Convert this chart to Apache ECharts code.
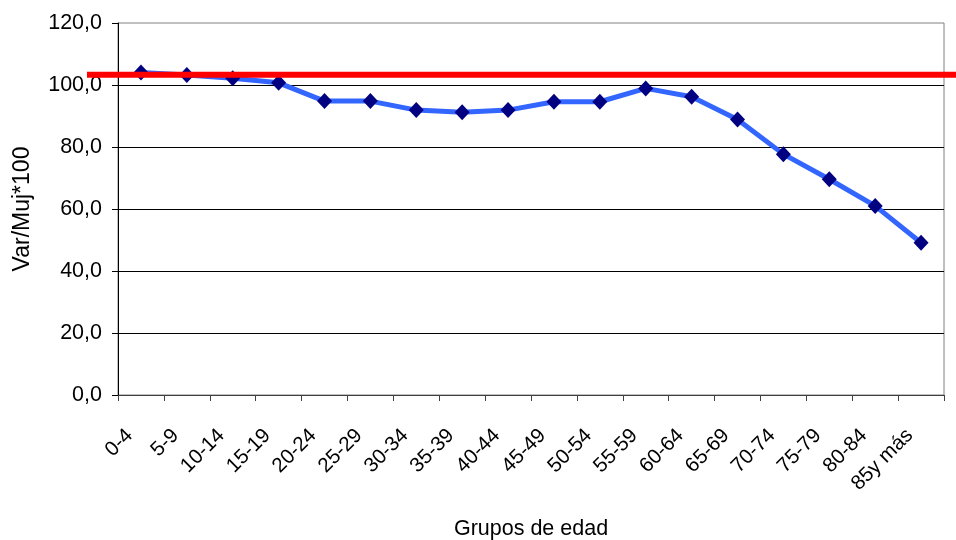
<!DOCTYPE html>
<html>
<head>
<meta charset="utf-8">
<script src="https://cdn.jsdelivr.net/npm/echarts@6/dist/echarts.min.js"></script>
<style>html,body{margin:0;padding:0;background:#fff}#c{width:956px;height:540px}</style>
</head>
<body>
<div id="c"></div>
<script>
const categories = ["0-4","5-9","10-14","15-19","20-24","25-29","30-34","35-39","40-44","45-49","50-54","55-59","60-64","65-69","70-74","75-79","80-84","85y más"];
const ratio = [104.0,103.2,102.2,100.7,94.8,94.8,91.9,91.2,91.9,94.6,94.6,98.9,96.2,88.9,77.7,69.6,61.0,49.1];
const referenceValue = 103.3;
const yTicks = [0,20,40,60,80,100,120];

const chart = echarts.init(document.getElementById('c'));
const font = 'Liberation Sans, Arial, sans-serif';
chart.setOption({
  animation: false,
  backgroundColor: '#fff',
  grid: [
    {left: 118, right: 12, top: 23, bottom: 145, show: true, borderColor: '#808080', borderWidth: 1, outerBoundsMode: 'none', containLabel: false},
    {left: 87, right: 0, top: 23, bottom: 145, show: false, outerBoundsMode: 'none', containLabel: false}
  ],
  xAxis: [
    {
      type: 'category', data: categories, gridIndex: 0, boundaryGap: true,
      name: 'Grupos de edad', nameLocation: 'middle', nameGap: 123,
      nameTextStyle: {fontFamily: font, fontSize: 21.5, color: '#000'},
      axisLine: {lineStyle: {color: '#404040', width: 1}},
      axisTick: {show: true, alignWithLabel: false, inside: false, length: 6, lineStyle: {color: '#404040'}},
      axisLabel: {rotate: 45, margin: 26, padding: [0, 16, 0, 0], fontFamily: font, fontSize: 20.5, color: '#000', interval: 0},
      splitLine: {show: false}
    },
    {type: 'value', gridIndex: 1, min: 0, max: 1, show: false}
  ],
  yAxis: [
    {
      type: 'value', gridIndex: 0, min: yTicks[0], max: yTicks[yTicks.length-1], interval: 20,
      name: 'Var/Muj*100', nameLocation: 'middle', nameGap: 84, nameRotate: 90,
      nameTextStyle: {fontFamily: font, fontSize: 23, color: '#000'},
      axisLine: {show: true, lineStyle: {color: '#000', width: 1}},
      axisTick: {show: true, length: 6, lineStyle: {color: '#000'}},
      axisLabel: {fontFamily: font, fontSize: 21.5, color: '#000', margin: 16,
        formatter: v => v.toFixed(1).replace('.', ',')},
      splitLine: {show: true, showMinLine: false, showMaxLine: false, lineStyle: {color: '#000', width: 1}}
    },
    {type: 'value', gridIndex: 1, min: 0, max: 120, show: false}
  ],
  series: [
    {
      type: 'line', xAxisIndex: 0, yAxisIndex: 0, data: ratio,
      lineStyle: {color: '#3366FF', width: 5},
      symbol: 'diamond', symbolSize: [15, 16],
      itemStyle: {color: '#000080', borderWidth: 0},
      z: 3
    },
    {
      type: 'line', xAxisIndex: 1, yAxisIndex: 1,
      data: [[0, referenceValue], [1, referenceValue]],
      lineStyle: {color: '#FF0000', width: 6}, symbol: 'none', z: 5
    }
  ]
});
</script>
</body>
</html>
